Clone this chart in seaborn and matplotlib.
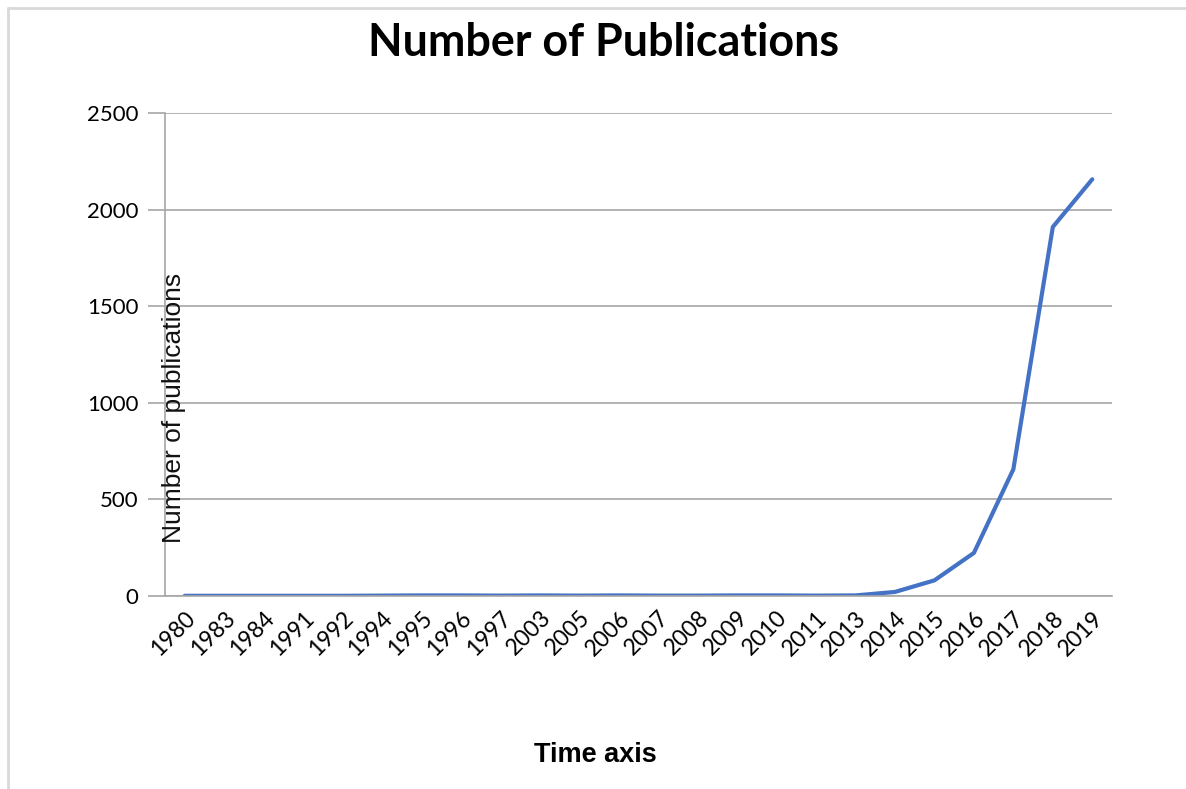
"""Number of publications per year, recreated with seaborn."""

import matplotlib

matplotlib.use("Agg")
import matplotlib.pyplot as plt  # noqa: E402
import pandas as pd  # noqa: E402
import seaborn as sns  # noqa: E402
from matplotlib.lines import Line2D  # noqa: E402
from matplotlib.ticker import FixedLocator  # noqa: E402

years = [
    "1980", "1983", "1984", "1991", "1992", "1994", "1995", "1996",
    "1997", "2003", "2005", "2006", "2007", "2008", "2009", "2010",
    "2011", "2013", "2014", "2015", "2016", "2017", "2018", "2019",
]
publications = [
    1, 1, 1, 1, 1, 2, 3, 3,
    2, 3, 2, 3, 2, 2, 3, 3,
    2, 3, 21, 81, 223, 656, 1910, 2157,
]
y_ticks = [0, 500, 1000, 1500, 2000, 2500]

LINE_COLOR = "#4472C4"
GRID_COLOR = "#a6a6a6"


def main() -> None:
    df = pd.DataFrame({"year": years, "count": publications})

    sns.set_style("white")
    plt.rcParams["font.family"] = ["Lato", "DejaVu Sans"]
    plt.rcParams["text.color"] = "black"
    plt.rcParams["xtick.labelcolor"] = "black"
    plt.rcParams["ytick.labelcolor"] = "black"

    fig = plt.figure(figsize=(11.86, 7.89), dpi=100)
    W, H = 1186, 789
    ax = fig.add_axes([165 / W, 1 - 596 / H, (1112 - 165) / W, (596 - 113) / H])

    sns.lineplot(data=df, x="year", y="count", ax=ax, color=LINE_COLOR,
                 linewidth=3, sort=False)

    n = len(years)
    ax.set_xlim(-0.5, n - 0.5)
    ax.set_ylim(0, 2500)
    ax.set_yticks(y_ticks)
    ax.set_yticklabels([str(v) for v in y_ticks], fontsize=16)
    ax.yaxis.grid(True, color=GRID_COLOR, linewidth=1.2)
    ax.set_axisbelow(True)

    ax.set_xticks(range(n))
    ax.set_xticklabels(years, rotation=45, ha="right", va="top",
                       rotation_mode="anchor", fontsize=16.5)
    ax.xaxis.set_minor_locator(FixedLocator([i - 0.5 for i in range(n + 1)]))
    ax.tick_params(axis="x", which="major", length=0, pad=8)
    ax.tick_params(axis="x", which="minor", length=12, width=1.2, color=GRID_COLOR)
    ax.tick_params(axis="y", which="major", length=12, width=1.2,
                   color=GRID_COLOR, pad=7, left=True)

    for side in ("top", "right"):
        ax.spines[side].set_visible(False)
    for side in ("left", "bottom"):
        ax.spines[side].set_color(GRID_COLOR)
        ax.spines[side].set_linewidth(1.2)

    ax.set_xlabel("")
    ax.set_ylabel("")

    fig.text(603 / W, 1 - 43 / H, "Number of Publications", ha="center",
             va="center", fontsize=32.3, fontweight="bold", color="black")
    fig.text(174 / W, 1 - 408 / H, "Number of publications", ha="center",
             va="center", rotation=90, fontsize=19,
             family=["Liberation Sans", "DejaVu Sans"], color="#111111")
    fig.text(595 / W, 1 - 755 / H, "Time axis", ha="center", va="center",
             fontsize=19.5, fontweight="bold", color="black",
             family=["Liberation Sans", "DejaVu Sans"])

    # light frame on the top and left edges, like the exported chart area
    fig.add_artist(Line2D([8 / W, 1], [1 - 8 / H, 1 - 8 / H],
                          transform=fig.transFigure, color="#d9d9d9", linewidth=2))
    fig.add_artist(Line2D([8 / W, 8 / W], [0, 1 - 8 / H],
                          transform=fig.transFigure, color="#d9d9d9", linewidth=2))

    fig.savefig("out.png", dpi=100)


if __name__ == "__main__":
    main()
